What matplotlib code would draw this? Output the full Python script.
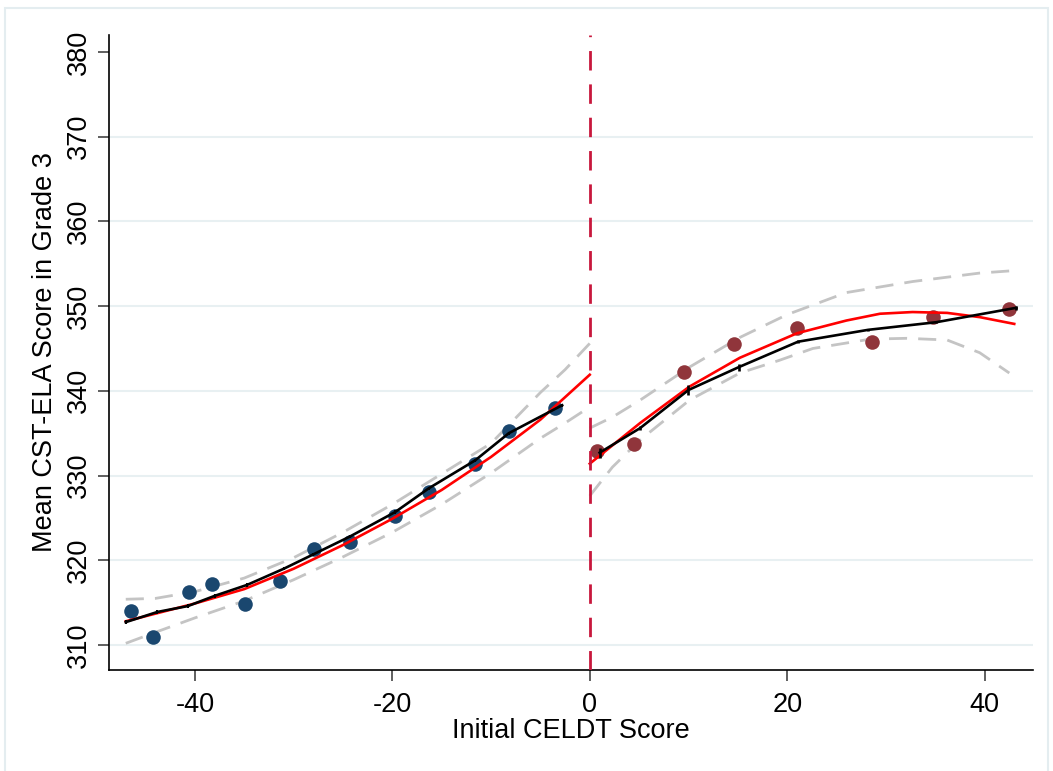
import numpy as np
import matplotlib
matplotlib.use("Agg")
import matplotlib.pyplot as plt
from matplotlib.patches import Rectangle

plt.rcParams['font.family'] = ['Liberation Sans', 'DejaVu Sans']
plt.rcParams['axes.unicode_minus'] = False

# binned means, below and above the cutoff
left_x = [-46.5, -44.2, -40.6, -38.3, -34.9, -31.4, -27.9, -24.3, -19.7, -16.3, -11.6, -8.2, -3.5]
left_y = [314.0, 310.9, 316.3, 317.2, 314.8, 317.6, 321.3, 322.2, 325.2, 328.1, 331.4, 335.3, 338.0]
right_x = [0.7, 4.5, 9.5, 14.6, 21.0, 28.6, 34.8, 42.5]
right_y = [332.9, 333.7, 342.2, 345.5, 347.4, 345.8, 348.7, 349.7]

# polynomial fit (red)
fit_lx = [-47, -40, -35, -30, -25, -20, -15, -10, -5, 0]
fit_ly = [312.8, 314.9, 316.6, 319.0, 321.8, 324.9, 328.3, 332.2, 336.6, 341.9]
fit_rx = [0, 5.1, 10.1, 15.2, 21.0, 26.0, 29.4, 32.7, 36.2, 39.5, 43.0]
fit_ry = [331.4, 336.2, 340.5, 343.9, 346.8, 348.3, 349.1, 349.3, 349.2, 348.7, 347.9]

# confidence band (gray dashed)
ci_lx = [-47, -44, -40, -35, -30, -25, -20, -15, -10, -5, -2.5, 0]
ci_lhi = [315.4, 315.5, 316.3, 317.9, 320.3, 323.3, 326.6, 330.2, 333.8, 339.8, 342.5, 345.6]
ci_llo = [310.2, 311.5, 313.2, 315.2, 317.7, 320.4, 323.3, 326.6, 330.3, 334.4, 336.2, 338.1]
ci_rx_hi = [0, 2.3, 5.1, 10.1, 15.2, 20.0, 26.0, 32.7, 39.5, 43.1]
ci_rhi = [335.6, 336.9, 338.9, 342.8, 346.3, 349.0, 351.6, 352.9, 353.9, 354.2]
ci_rx_lo = [0, 2.3, 5.1, 10.1, 15.2, 19.2, 22.6, 28.4, 32.1, 36.2, 39.5, 42.5]
ci_rlo = [327.6, 331.0, 334.2, 338.9, 342.1, 343.6, 345.0, 346.1, 346.2, 346.0, 344.5, 342.1]

# local linear fit (black) with its spread at each knot
ll_lx = [-47.0, -43.8, -40.7, -38.0, -34.7, -31.0, -28.0, -24.3, -19.7, -16.3, -11.6, -8.2, -2.8]
ll_ly = [312.7, 313.9, 314.6, 315.8, 317.1, 319.0, 320.7, 322.8, 325.7, 328.5, 331.8, 335.0, 338.3]
ll_lerr = [0.25, 0.2, 0.2, 0.2, 0.2, 0.2, 0.2, 0.2, 0.2, 0.2, 0.2, 0.2, 0.2]
ll_rx = [1.0, 5.1, 10.0, 15.1, 21.1, 28.2, 35.1, 43.2]
ll_ry = [332.7, 335.6, 340.1, 342.8, 345.8, 347.2, 348.1, 349.8]
ll_rerr = [0.6, 0.25, 0.55, 0.4, 0.15, 0.12, 0.12, 0.2]

yticks = [310, 320, 330, 340, 350, 360, 370, 380]
xticks = [-40, -20, 0, 20, 40]

fig = plt.figure(figsize=(10.53, 7.71), dpi=100)
ax = fig.add_axes([109 / 1053, 1 - 670 / 771, (1033 - 109) / 1053, (670 - 35) / 771])

# light frame around the whole graph
fig.patches.append(Rectangle((5 / 1053, -0.02), (1048 - 5) / 1053, 1.02 - 8 / 771,
                             transform=fig.transFigure, fill=False,
                             edgecolor='#e4edf0', linewidth=1.5))

for v in yticks[:-1]:
    ax.axhline(v, color='#e8f0f2', linewidth=1.5, zorder=0)

ax.scatter(left_x, left_y, s=110, color='#1a476f', zorder=3, linewidths=0)
ax.scatter(right_x, right_y, s=110, color='#90353b', zorder=3, linewidths=0)

dash = dict(color='#c4c4c4', linewidth=2.0, dashes=(6.5, 4), zorder=2)
ax.plot(ci_lx, ci_lhi, **dash)
ax.plot(ci_lx, ci_llo, **dash)
ax.plot(ci_rx_hi, ci_rhi, **dash)
ax.plot(ci_rx_lo, ci_rlo, **dash)

ax.plot(fit_lx, fit_ly, color='red', linewidth=1.9, zorder=4)
ax.plot(fit_rx, fit_ry, color='red', linewidth=1.9, zorder=4)

ax.errorbar(ll_lx, ll_ly, yerr=ll_lerr, color='black', linewidth=1.9,
            elinewidth=1.5, capsize=0, zorder=5)
ax.errorbar(ll_rx, ll_ry, yerr=ll_rerr, color='black', linewidth=1.9,
            elinewidth=1.9, capsize=0, zorder=5)

ax.axvline(0, color='#c8173c', linewidth=2.0, dashes=(7, 5), zorder=6)

ax.set_xlim(-48.7, 44.9)
ax.set_ylim(307.05, 382.0)
ax.set_xticks(xticks)
ax.set_yticks(yticks)
ax.set_yticklabels([str(v) for v in yticks], rotation=90, va='center')
ax.tick_params(axis='both', direction='out', length=8, width=1.2,
               color='#444444', labelsize=19.5)
ax.tick_params(axis='y', pad=4)
ax.tick_params(axis='x', pad=8)

for side in ['top', 'right']:
    ax.spines[side].set_visible(False)
for side in ['left', 'bottom']:
    ax.spines[side].set_linewidth(1.2)

ax.set_xlabel('Initial CELDT Score', fontsize=19.5, labelpad=0)
ax.set_ylabel('Mean CST-ELA Score in Grade 3', fontsize=19.5, labelpad=6)

fig.savefig('out.png', dpi=100, facecolor='white')
